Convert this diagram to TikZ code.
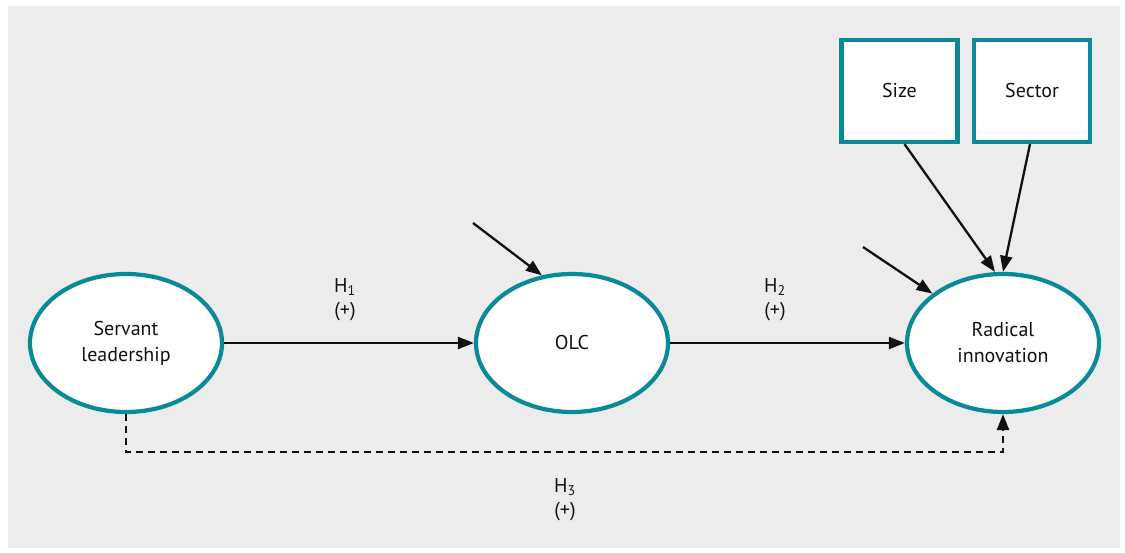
\documentclass[tikz,border=0pt]{standalone}
\usepackage{fontspec}
\setmainfont{PT Sans}
\usepackage{tikz}
\usepackage{xcolor}
\usetikzlibrary{arrows.meta,positioning,shapes.geometric,calc}
\definecolor{panel}{HTML}{EBECEB}
\definecolor{teal}{HTML}{0A8A96}
\definecolor{ink}{HTML}{111111}
\tikzset{
  construct/.style={ellipse,draw=teal,fill=white,line width=4.2pt,
                    minimum width=192pt,minimum height=138pt,inner sep=0pt,
                    align=center,font=\fontsize{20}{26}\selectfont,text=ink},
  ctrlbox/.style={rectangle,draw=teal,fill=white,line width=4.2pt,
                  minimum width=116pt,minimum height=102pt,inner sep=0pt,
                  font=\fontsize{20}{22}\selectfont,text=ink},
  hyplabel/.style={align=center,font=\fontsize{20}{24}\selectfont,text=ink},
  patharr/.style={-{Triangle[length=16pt,width=12pt]},line width=2.3pt,color=ink},
  directarr/.style={patharr,dash pattern=on 7pt off 5pt}
}
\begin{document}
\begin{tikzpicture}[x=1pt,y=-1pt]
  \useasboundingbox (0,0) rectangle (1125,553);
  \fill[panel] (8,6) rectangle (1120,548);
  % constructs
  \node[construct] (serv) at (126,343) {Servant\\leadership};
  \node[construct] (olc) at (572,343) {OLC};
  \node[construct] (rad) at (1003,343) {Radical\\innovation};
  % controls
  \node[ctrlbox] (size) at (899.5,91) {Size};
  \node[ctrlbox] (sector) at (1032,91) {Sector};
  % error terms
  \coordinate (olcerr) at (473,223);
  \coordinate (raderr) at (863,247);
  \coordinate (dashy) at (0,452);
  % paths
  \draw[patharr] (serv) -- (olc);
  \draw[patharr] (olc) -- (rad);
  \draw[patharr] ([xshift=5pt]size.south) -- ([xshift=-8pt]rad.north);
  \draw[patharr] ([xshift=-2pt]sector.south) -- (rad.north);
  \draw[patharr] (olcerr) -- (olc.114);
  \draw[patharr] (raderr) -- (rad.145);
  \draw[directarr] (serv.south) -- (serv.south |- dashy) -- (rad.south |- dashy) -- (rad.south);
  % hypotheses
  \node[hyplabel] (h1) at (345,300) {H\textsubscript{1}\\(+)};
  \node[hyplabel] (h2) at (775,300) {H\textsubscript{2}\\(+)};
  \node[hyplabel] (h3) at (565,500) {H\textsubscript{3}\\(+)};
\end{tikzpicture}
\end{document}
